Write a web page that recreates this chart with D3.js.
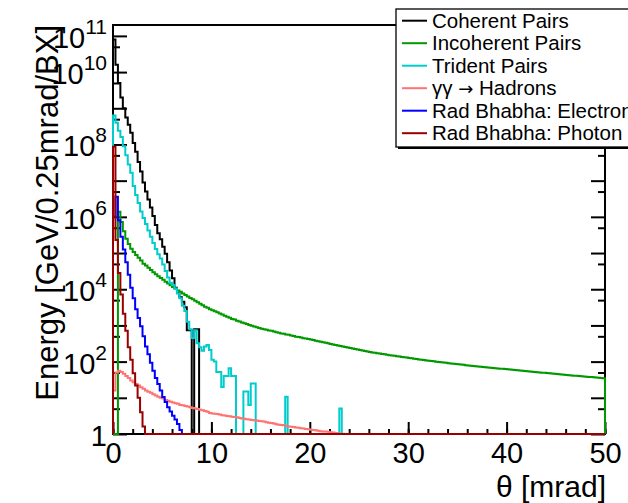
<!DOCTYPE html>
<html>
<head>
<meta charset="utf-8">
<title>Energy vs theta</title>
<script src="https://cdn.jsdelivr.net/npm/d3@7"></script>
<style>
  body { margin: 0; background: #fff; }
  svg { display: block; font-family: "Liberation Sans", Arial, Helvetica, sans-serif; }
</style>
</head>
<body>
<script>
// histograms: 200 bins of 0.25 mrad from 0 to 50 mrad, bins past the end of an array are empty
var binWidth = 0.25;
var nBins = 200;

var coherent = [7.9e10, 1.6e10, 5.0e9, 2.0e9, 1.0e9, 5.6e8, 3.5e8, 2.1e8, 1.1e8, 6.3e7,
  3.3e7, 1.8e7, 8.9e6, 5.0e6, 3.0e6, 1.8e6, 1.05e6, 6.0e5, 3.5e5, 2.4e5,
  1.5e5, 9.5e4, 5.6e4, 3.3e4, 2.0e4, 1.1e4, 7.9e3, 6.0e3, 4.5e3, 3.2e3,
  740, 740, 0, 790, 790];

var incoherent = [0, 0, 1.38e6, 7.2e5, 4.0e5, 2.5e5, 1.78e5, 1.32e5, 1.07e5, 8.9e4,
  7.4e4, 6.2e4, 5.1e4, 4.5e4, 3.9e4, 3.4e4, 2.95e4, 2.6e4, 2.3e4, 2.04e4,
  1.82e4, 1.62e4, 1.45e4, 1.29e4, 1.15e4, 1.05e4, 9300, 8500, 7600, 6900,
  6300, 5750, 5250, 4800, 4400, 4000, 3600, 3300, 3100, 2800,
  2630, 2450, 2300, 2140, 2000, 1860, 1740, 1620, 1510, 1450,
  1350, 1290, 1200, 1150, 1100, 1020, 980, 930, 890, 850,
  810, 790, 760, 725, 710, 675, 645, 630, 600, 590,
  560, 550, 525, 510, 490, 480, 465, 445, 435, 425,
  407, 394, 380, 367, 355, 343, 331, 320, 309, 299,
  288, 279, 270, 262, 254, 245, 238, 230, 223, 216,
  209, 203, 197, 191, 185, 180, 176, 171, 167, 163,
  159, 155, 151, 148, 145, 141, 138, 135, 132, 129,
  126, 123, 120, 117.5, 115, 113, 110, 108, 106, 104,
  102, 99.5, 97.7, 95.9, 94.2, 92.5, 90.8, 89.1, 87.5, 85.9,
  84.3, 82.8, 81.3, 79.8, 78.5, 77.3, 76.0, 74.8, 73.6, 72.4,
  71.3, 70.1, 69.0, 67.9, 66.8, 65.8, 64.9, 64.0, 63.1, 62.1,
  61.1, 60.3, 59.3, 58.5, 57.5, 56.8, 55.8, 55.1, 54.2, 53.5,
  52.6, 51.9, 51.1, 50.4, 49.5, 48.9, 48.1, 47.4, 46.7, 46.0,
  45.3, 44.7, 44.0, 43.4, 42.7, 42.1, 41.5, 40.9, 40.5, 39.9,
  39.4, 38.8, 38.3, 37.8, 37.3, 36.8, 36.3, 35.9, 35.4, 34.9];

var trident = [6.3e8, 4.0e8, 2.4e8, 1.6e8, 8.9e7, 5.0e7, 2.8e7, 1.66e7, 7.1e6, 4.0e6,
  2.4e6, 1.4e6, 9.3e5, 6.3e5, 4.2e5, 2.8e5, 1.9e5, 1.3e5, 9.3e4, 7.1e4,
  4.8e4, 3.2e4, 2.1e4, 1.5e4, 1.3e4, 1.05e4, 7600, 5600, 3500, 2500,
  1260, 790, 450, 740, 320, 250, 200, 260, 290, 210,
  112, 100, 52, 52, 20, 40, 40, 66, 40, 40,
  0, 0, 0, 15, 15, 6.3, 25, 25, 0, 0,
  0, 0, 0, 0, 0, 0, 0, 0, 0, 0,
  10.7, 0, 0, 0, 0, 0, 0, 0, 0, 0,
  0, 0, 0, 0, 0, 0, 0, 0, 0, 0,
  0, 0, 5.1];

var hadrons = [15.8, 50, 56, 52, 46, 40, 35, 30, 27, 24,
  22, 19.5, 17.8, 15.8, 14.8, 13.8, 12.6, 11.5, 10.7, 10.0,
  9.5, 8.7, 8.3, 7.8, 7.4, 7.1, 6.8, 6.3, 6.2, 5.9,
  5.75, 5.5, 5.25, 5.1, 4.9, 4.7, 4.5, 4.3, 4.1, 3.8,
  3.7, 3.6, 3.55, 3.45, 3.3, 3.25, 3.15, 3.1, 3.0, 2.95,
  2.9, 2.75, 2.7, 2.65, 2.55, 2.5, 2.45, 2.4, 2.35, 2.3,
  2.25, 2.2, 2.1, 2.05, 2.0, 1.95, 1.85, 1.8, 1.78, 1.74,
  1.66, 1.62, 1.58, 1.55, 1.51, 1.48, 1.45, 1.41, 1.38, 1.35,
  1.32, 1.29, 1.26, 1.23, 1.2, 1.17, 1.17, 1.15, 1.12, 1.1,
  1.07, 1.05, 1.02, 1.01];

var radElectron = [1.0e6, 3.6e6, 8.1e5, 2.8e5, 1.26e5, 5.6e4, 2.5e4, 1.1e4, 5600, 2800,
  1600, 950, 500, 260, 160, 93, 56, 35, 24, 16,
  10.5, 7.6, 5.5, 4.2, 3.2, 2.5, 1.9, 1.3];

var radPhoton = [8.7e7, 2.3e5, 2.8e4, 7100, 2100, 710, 250, 112, 48, 22,
  10, 4, 1.6];

var seriesNames = ["Coherent Pairs", "Incoherent Pairs", "Trident Pairs",
  "\u03b3\u03b3 \u2192 Hadrons", "Rad Bhabha: Electron", "Rad Bhabha: Photon"];
var seriesData = [coherent, incoherent, trident, hadrons, radElectron, radPhoton];
var seriesColors = ["#000000", "#009900", "#00cccc", "#ff7373", "#0000ff", "#990000"];

var xMajorTicks = [0, 10, 20, 30, 40, 50];
var xMinorTicks = d3.range(0, 51, 2);
var yMajorTicks = [1, 1e1, 1e2, 1e3, 1e4, 1e5, 1e6, 1e7, 1e8, 1e9, 1e10, 1e11];
var yMinorTicks = [5, 50, 5e2, 5e3, 5e4, 5e5, 5e6, 5e7, 5e8, 5e9, 5e10];
var yLabelTicks = [1, 1e2, 1e4, 1e6, 1e8, 1e10, 1e11];

var width = 628, height = 503;

var svg = d3.select("body").append("svg")
  .attr("width", width)
  .attr("height", height);

var x = d3.scaleLinear().domain([0, 50]).range([113, 605]);
var y = d3.scaleLog().domain([1, 2e11]).range([434, 25]);

// frame
svg.append("rect")
  .attr("x", x(0)).attr("y", y(2e11))
  .attr("width", x(50) - x(0)).attr("height", y(1) - y(2e11))
  .attr("fill", "none").attr("stroke", "#000").attr("stroke-width", 2);

// ticks
function tickAxis(axis, tx, ty) {
  var g = svg.append("g").attr("transform", "translate(" + tx + "," + ty + ")").call(axis);
  g.select(".domain").remove();
  g.selectAll(".tick line").attr("stroke", "#000").attr("stroke-width", 2);
  return g;
}
tickAxis(d3.axisBottom(x).tickValues(xMinorTicks).tickSizeInner(-5).tickSizeOuter(0).tickFormat(""), 0, y(1));
tickAxis(d3.axisLeft(y).tickValues(yMajorTicks).tickSizeInner(-14).tickSizeOuter(0).tickFormat(""), x(0), 0);
tickAxis(d3.axisLeft(y).tickValues(yMinorTicks).tickSizeInner(-7).tickSizeOuter(0).tickFormat(""), x(0), 0);
tickAxis(d3.axisRight(y).tickValues(yMajorTicks).tickSizeInner(-14).tickSizeOuter(0).tickFormat(""), x(50), 0);
tickAxis(d3.axisRight(y).tickValues(yMinorTicks).tickSizeInner(-7).tickSizeOuter(0).tickFormat(""), x(50), 0);

var xAxisG = tickAxis(d3.axisBottom(x).tickValues(xMajorTicks).tickSizeInner(-12).tickSizeOuter(0)
  .tickPadding(8).tickFormat(d3.format("d")), 0, y(1));
xAxisG.selectAll(".tick text")
  .attr("fill", "#000")
  .style("font-size", "29px")
  .style("font-family", "'Liberation Sans', Arial, sans-serif");

// y labels with exponents
var yLab = svg.append("g").attr("font-size", 29).attr("fill", "#000");
yLabelTicks.forEach(function(v) {
  var e = Math.round(Math.log10(v));
  var t = yLab.append("text")
    .attr("x", 107)
    .attr("y", y(v) + 12)
    .attr("text-anchor", "end");
  if (e === 0) {
    t.text("1");
  } else {
    t.append("tspan").text("10");
    t.append("tspan").attr("dy", -14).attr("font-size", 21).text(e);
  }
});

// axis titles
svg.append("text")
  .attr("x", x(50) + 1)
  .attr("y", 497)
  .attr("text-anchor", "end")
  .attr("font-size", 30)
  .text("\u03b8 [mrad]");

svg.append("text")
  .attr("transform", "translate(58,25) rotate(-90)")
  .attr("text-anchor", "end")
  .attr("font-size", 31)
  .text("Energy [GeV/0.25mrad/BX]");

// histograms
svg.append("clipPath").attr("id", "plotClip")
  .append("rect")
  .attr("x", x(0) - 2).attr("y", y(2e11))
  .attr("width", x(50) - x(0) + 4).attr("height", y(1) - y(2e11) + 2);

function stepPoints(vals) {
  var pts = [[0, 1]];
  for (var i = 0; i < nBins; i++) {
    var v = i < vals.length ? Math.max(vals[i], 1) : 1;
    pts.push([i * binWidth, v]);
    pts.push([(i + 1) * binWidth, v]);
  }
  pts.push([nBins * binWidth, 1]);
  return pts;
}

var line = d3.line()
  .x(function(d) { return x(d[0]); })
  .y(function(d) { return y(d[1]); });

svg.append("g").attr("clip-path", "url(#plotClip)")
  .selectAll("path")
  .data(seriesData)
  .enter()
  .append("path")
  .attr("d", function(d) { return line(stepPoints(d)); })
  .attr("fill", "none")
  .attr("stroke", function(d, i) { return seriesColors[i]; })
  .attr("stroke-width", 2)
  .attr("stroke-linejoin", "miter");

// legend
var legend = svg.append("g");
legend.append("rect")
  .attr("x", 398).attr("y", 11).attr("width", 240).attr("height", 138)
  .attr("fill", "#000");
legend.append("rect")
  .attr("x", 396).attr("y", 9).attr("width", 240).attr("height", 138)
  .attr("fill", "#fff").attr("stroke", "#000").attr("stroke-width", 1.3);

seriesNames.forEach(function(name, i) {
  var cy = 20.7 + 22.5 * i;
  legend.append("line")
    .attr("x1", 402).attr("x2", 427)
    .attr("y1", cy).attr("y2", cy)
    .attr("stroke", seriesColors[i]).attr("stroke-width", 2);
  var t = legend.append("text")
    .attr("x", 432).attr("y", cy + 7)
    .attr("font-size", 20.5);
  if (name.indexOf("\u2192") >= 0) {
    var parts = name.split("\u2192");
    t.append("tspan").text(parts[0]);
    t.append("tspan").style("font-family", "'DejaVu Sans'").attr("font-size", 18).text("\u2192");
    t.append("tspan").text(parts[1]);
  } else {
    t.text(name);
  }
});
</script>
</body>
</html>
